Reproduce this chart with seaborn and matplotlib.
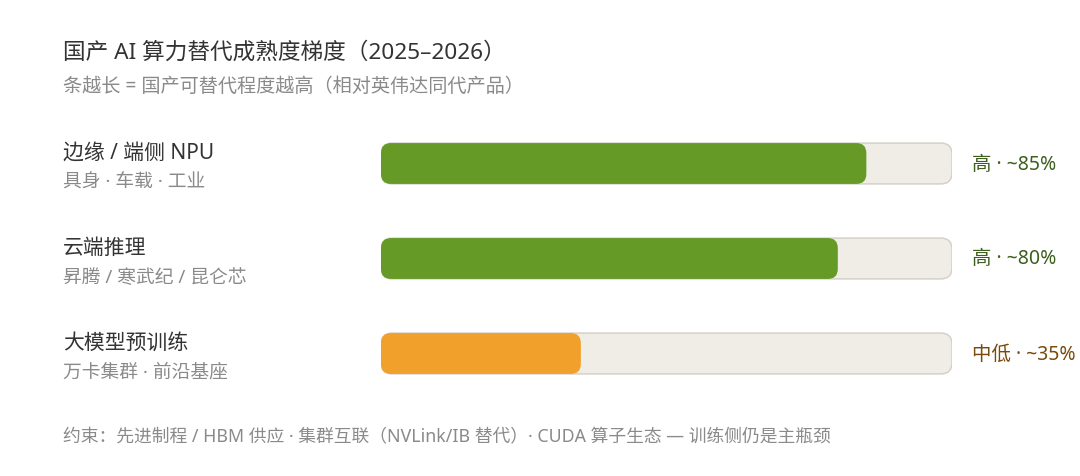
import matplotlib
matplotlib.use("Agg")
import matplotlib.pyplot as plt
import matplotlib.transforms as mtransforms
from matplotlib.patches import FancyBboxPatch
import seaborn as sns
import pandas as pd

# ---- data ----
categories = ["边缘 / 端侧 NPU", "云端推理", "大模型预训练"]
subtitles = ["具身 · 车载 · 工业", "昇腾 / 寒武纪 / 昆仑芯", "万卡集群 · 前沿基座"]
values = [85, 80, 35]
track_max = [100, 100, 100]
value_labels = ["高 · ~85%", "高 · ~80%", "中低 · ~35%"]
bar_colors = ["#659a27", "#659a27", "#f0a02b"]
label_colors = ["#3d5f1c", "#3d5f1c", "#7a4a0c"]

title = "国产 AI 算力替代成熟度梯度（2025–2026）"
subtitle = "条越长 = 国产可替代程度越高（相对英伟达同代产品）"
footer = "约束：先进制程 / HBM 供应 · 集群互联（NVLink/IB 替代）· CUDA 算子生态 — 训练侧仍是主瓶颈"

sns.set_theme(style="white")
plt.rcParams["font.family"] = ["Noto Sans", "Noto Sans CJK SC", "DejaVu Sans"]

W, H = 1080, 476
fig = plt.figure(figsize=(W / 100, H / 100), dpi=100)
fig.patch.set_facecolor("white")

# axes placed in pixel geometry
x0, x1 = 381, 952
y_top, y_bot = 116, 401
ax = fig.add_axes([x0 / W, 1 - y_bot / H, (x1 - x0) / W, (y_bot - y_top) / H])

df = pd.DataFrame({"cat": categories, "val": values, "track": track_max})
bar_h = 0.43
sns.barplot(data=df, x="track", y="cat", orient="h", color="#f0ede6", saturation=1,
            width=bar_h, ax=ax)
n_track = len(ax.patches)
sns.barplot(data=df, x="val", y="cat", hue="cat", palette=bar_colors, orient="h",
            saturation=1, width=bar_h, legend=False, ax=ax)
ax.set_xlim(0, 100)
ax.set_ylim(2.5, -0.5)

# pixel scales for rounding
px_per_x = (x1 - x0) / 100.0
px_per_y = (y_bot - y_top) / 3.0
aspect = px_per_x / px_per_y

patches = list(ax.patches)
for i, p in enumerate(patches):
    bx, by = p.get_x(), p.get_y()
    bw, bh = p.get_width(), p.get_height()
    fc = p.get_facecolor()
    p.remove()
    is_track = i < n_track
    r_px = 11 if is_track else 10
    fb = FancyBboxPatch((bx, by), bw, bh,
                        boxstyle=f"round,pad=0,rounding_size={r_px / px_per_x}",
                        mutation_aspect=aspect,
                        facecolor=fc,
                        edgecolor="#d2cec6" if is_track else "none",
                        linewidth=1.0 if is_track else 0,
                        zorder=1 if is_track else 2)
    ax.add_patch(fb)

ax.set_axis_off()

# labels
trans_left = mtransforms.blended_transform_factory(fig.transFigure, ax.transData)
trans_right = mtransforms.blended_transform_factory(ax.transAxes, ax.transData)
for i, (c, s, vl, lc) in enumerate(zip(categories, subtitles, value_labels, label_colors)):
    ax.text(63 / W, i - 10 / px_per_y, c, transform=trans_left, ha="left", va="center",
            fontsize=15, color="#333333", clip_on=False)
    ax.text(63 / W, i + 19.5 / px_per_y, s, transform=trans_left, ha="left", va="center",
            fontsize=13.5, color="#8a8a8a", clip_on=False)
    ax.text((972 - x0) / (x1 - x0), i + 1 / px_per_y, vl, transform=trans_right, ha="left",
            va="center", fontsize=14, color=lc, clip_on=False)

fig.text(63 / W, 1 - 53 / H, title, ha="left", va="center", fontsize=16.3, color="#333333")
fig.text(63 / W, 1 - 87 / H, subtitle, ha="left", va="center", fontsize=13.8, color="#8a8a8a")
fig.text(63 / W, 1 - 437 / H, footer, ha="left", va="center", fontsize=12.8, color="#8a8a8a")

fig.savefig("out.png", dpi=100, facecolor="white")
